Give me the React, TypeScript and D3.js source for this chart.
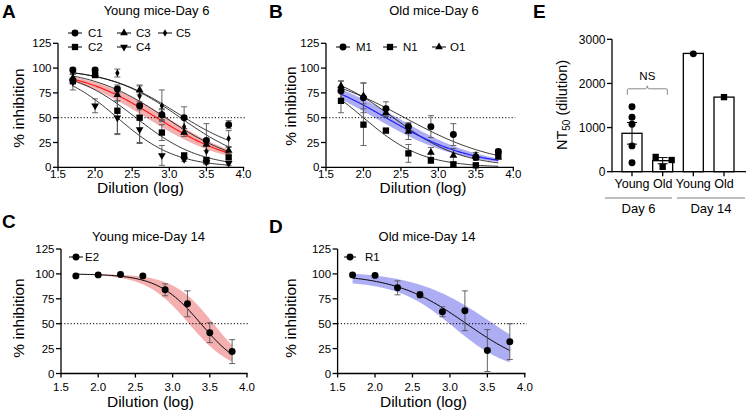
import React from "react"
import * as d3 from "d3"

const FONT = "'Liberation Sans', Arial, Helvetica, sans-serif"

// shared axes
const dilutions = [1.7, 2.0, 2.3, 2.6, 2.9, 3.2, 3.5, 3.8]
const xTicks = [1.5, 2.0, 2.5, 3.0, 3.5, 4.0]
const yTicks = [0, 25, 50, 75, 100, 125]

interface Fit {
  top: number
  bottom: number
  logIC50: number
  hill: number
}

// A: young mice, day 6
const c1Values = [98, 98, 79, 62, 53, 50, 27, 43]
const c1Errors = [2, 2, 4, 4, 6, 11, 17, 4]
const c2Values = [87, 93, 57, 50, 35, 12, 7, 10]
const c2Errors = [3, 2, 23, 25, 8, 2, 3, 2]
const c3Values = [90, 94, 73, 78, 53, 35, 23, 17]
const c3Errors = [4, 2, 6, 5, 5, 4, 6, 3]
const c4Values = [86, 62, 50, 38, 12, 8, 5, 4]
const c4Errors = [8, 7, 17, 14, 10, 2, 2, 2]
const c5Values = [96, 96, 95, 72, 62, 41, 16, 29]
const c5Errors = [2, 3, 4, 10, 16, 8, 6, 8]
const youngDay6Fits: Fit[] = [
  { top: 100, bottom: 10, logIC50: 3.1, hill: 0.9 },
  { top: 100, bottom: 0, logIC50: 2.55, hill: 1.0 },
  { top: 100, bottom: 0, logIC50: 2.95, hill: 0.85 },
  { top: 100, bottom: 0, logIC50: 2.3, hill: 1.1 },
  { top: 100, bottom: 0, logIC50: 3.15, hill: 0.9 },
]
const youngDay6Mean: Fit = { top: 100, bottom: 0, logIC50: 2.83, hill: 0.8 }
const youngDay6Band: Fit[] = [
  { top: 100, bottom: 0, logIC50: 2.97, hill: 0.8 },
  { top: 100, bottom: 0, logIC50: 2.69, hill: 0.8 },
]

// B: old mice, day 6
const m1Values = [77, 70, 59, 41, 41, 33, 10, 16]
const m1Errors = [10, 15, 7, 4, 11, 11, 3, 2]
const n1Values = [67, 43, 37, 14, 7, 3, 2, 13]
const n1Errors = [12, 21, 2, 9, 3, 2, 2, 3]
const o1Values = [82, 72, 55, 36, 15, 12, 12, 10]
const o1Errors = [5, 13, 4, 8, 5, 7, 3, 2]
const oldDay6Fits: Fit[] = [
  { top: 100, bottom: 0, logIC50: 2.55, hill: 0.7 },
  { top: 100, bottom: 0, logIC50: 2.0, hill: 1.1 },
  { top: 100, bottom: 0, logIC50: 2.4, hill: 0.95 },
]
const oldDay6Mean: Fit = { top: 100, bottom: 0, logIC50: 2.3, hill: 0.75 }
const oldDay6Band: Fit[] = [
  { top: 100, bottom: 0, logIC50: 2.45, hill: 0.75 },
  { top: 100, bottom: 0, logIC50: 2.15, hill: 0.75 },
]

// C: young mice, day 14
const e2Values = [98, 99, 99.5, 98, 84, 70, 41, 22]
const e2Errors = [1, 1, 1, 1, 6, 13, 10, 12]
const youngDay14Fit: Fit = { top: 100, bottom: 0, logIC50: 3.38, hill: 1.5 }
const youngDay14Band: Fit[] = [
  { top: 100, bottom: 0, logIC50: 3.55, hill: 1.6 },
  { top: 100, bottom: 0, logIC50: 3.22, hill: 1.5 },
]

// D: old mice, day 14
const r1Values = [99, 98.5, 86, 79, 62, 63, 23, 32]
const r1Errors = [1, 1, 7, 3, 5, 20, 21, 18]
const oldDay14Fit: Fit = { top: 100, bottom: 0, logIC50: 3.22, hill: 0.9 }
const oldDay14Band: Fit[] = [
  { top: 103, bottom: 0, logIC50: 3.55, hill: 0.85 },
  { top: 93, bottom: 0, logIC50: 3.05, hill: 1.15 },
]

// E: NT50
const nt50Labels = ["Young", "Old", "Young", "Old"]
const nt50Means = [870, 250, 2680, 1690]
const nt50Sem = [245, 70, 0, 0]
const youngDay6Nt50 = [1470, 1235, 1075, 585, 205]
const oldDay6Nt50 = [335, 265, 110]
const youngDay14Nt50 = [2670]
const oldDay14Nt50 = [1690]
const nt50Ticks = [0, 1000, 2000, 3000]
const dayGroups = ["Day 6", "Day 14"]

interface Series {
  name: string
  shape: string
  values: number[]
  errors: number[]
  fit?: Fit
}

const curveXs = d3.range(0, 106).map((i) => 1.7 + (2.1 * i) / 105)

function logistic(f: Fit, x: number) {
  return f.bottom + (f.top - f.bottom) / (1 + Math.pow(10, (x - f.logIC50) * f.hill))
}

function Marker({ shape, x, y }: { shape: string; x: number; y: number }) {
  let type: d3.SymbolType = d3.symbolCircle
  let size = 38
  if (shape === "square") { type = d3.symbolSquare; size = 40 }
  if (shape === "triangle" || shape === "triangleDown") { type = d3.symbolTriangle; size = 26 }
  if (shape === "diamond") { type = d3.symbolDiamond; size = 16 }
  const d = d3.symbol().type(type).size(size)() || ""
  const rot = shape === "triangleDown" ? " rotate(180)" : ""
  return <path d={d} transform={`translate(${x},${y})${rot}`} fill="#000" />
}

interface LegendItem { x: number; y: number; tx: number; half: number }

interface PanelProps {
  letter: string
  letterPos: [number, number]
  title: string
  titlePos: [number, number]
  xRange: [number, number]
  yRange: [number, number]
  xLabelPos: [number, number]
  yLabelPos: [number, number]
  tickBaseline: number
  series: Series[]
  mean?: Fit
  meanStroke?: string
  band: Fit[]
  bandFill: string
  legend: LegendItem[]
  curveWidth: number
}

function DosePanel(p: PanelProps) {
  const x = d3.scaleLinear().domain([1.5, 4]).range(p.xRange)
  const y = d3.scaleLinear().domain([0, 125]).range(p.yRange)
  const fitPath = (f: Fit) =>
    d3.line<number>().x((d) => x(d)).y((d) => y(logistic(f, d)))(curveXs) || ""
  const bandPath =
    d3
      .area<number>()
      .x((d) => x(d))
      .y0((d) => y(logistic(p.band[1], d)))
      .y1((d) => y(logistic(p.band[0], d)))(curveXs) || ""

  return (
    <g fontFamily={FONT}>
      <text x={p.letterPos[0]} y={p.letterPos[1]} fontSize={19} fontWeight="bold">{p.letter}</text>
      <text x={p.titlePos[0]} y={p.titlePos[1]} fontSize={13} textAnchor="middle">{p.title}</text>

      {/* legend */}
      {p.series.map((s, i) => {
        const l = p.legend[i]
        return (
          <g key={s.name}>
            <line x1={l.x - l.half} x2={l.x + l.half} y1={l.y} y2={l.y} stroke="#000" strokeWidth={1} />
            <Marker shape={s.shape} x={l.x} y={l.y} />
            <text x={l.tx} y={l.y} dy="0.36em" fontSize={11.5}>{s.name}</text>
          </g>
        )
      })}

      {/* band and fits */}
      <path d={bandPath} fill={p.bandFill} opacity={0.62} />
      {p.series.map((s) =>
        s.fit ? <path key={s.name} d={fitPath(s.fit)} fill="none" stroke="#000" strokeWidth={p.curveWidth} /> : null
      )}
      {p.mean && <path d={fitPath(p.mean)} fill="none" stroke={p.meanStroke} strokeWidth={1.2} />}

      {/* 50% line */}
      <line x1={x(1.5)} x2={x(4) + 2} y1={y(50)} y2={y(50)} stroke="#000" strokeWidth={1} strokeDasharray="1.2 2" />

      {/* error bars */}
      {p.series.map((s) =>
        s.values.map((v, i) => {
          const cx = x(dilutions[i])
          const e = s.errors[i]
          return (
            <g key={s.name + i} stroke="#555" strokeWidth={0.9}>
              <line x1={cx} x2={cx} y1={y(v - e)} y2={y(v + e)} />
              <line x1={cx - 3} x2={cx + 3} y1={y(v - e)} y2={y(v - e)} />
              <line x1={cx - 3} x2={cx + 3} y1={y(v + e)} y2={y(v + e)} />
            </g>
          )
        })
      )}
      {p.series.map((s) =>
        s.values.map((v, i) => <Marker key={s.name + "m" + i} shape={s.shape} x={x(dilutions[i])} y={y(v)} />)
      )}

      {/* axes */}
      <g stroke="#000" strokeWidth={1.3}>
        <line x1={p.xRange[0]} x2={p.xRange[0]} y1={y(0) + 0.65} y2={y(125)} />
        <line x1={p.xRange[0]} x2={x(4) + 0.65} y1={y(0)} y2={y(0)} />
        {yTicks.map((t) => (
          <line key={"yt" + t} x1={p.xRange[0] - 5} x2={p.xRange[0]} y1={y(t)} y2={y(t)} />
        ))}
        {xTicks.map((t) => (
          <line key={"xt" + t} x1={x(t)} x2={x(t)} y1={y(0)} y2={y(0) + 4} />
        ))}
      </g>
      {yTicks.map((t) => (
        <text key={"yl" + t} x={p.xRange[0] - 6.5} y={y(t)} dy="0.36em" fontSize={11.5} textAnchor="end">{t}</text>
      ))}
      {xTicks.map((t) => (
        <text key={"xl" + t} x={x(t)} y={y(0) + p.tickBaseline} fontSize={11.5} textAnchor="middle">{t.toFixed(1)}</text>
      ))}
      <text x={p.xLabelPos[0]} y={p.xLabelPos[1]} fontSize={15.5} textAnchor="middle">Dilution (log)</text>
      <text transform={`translate(${p.yLabelPos[0]},${p.yLabelPos[1]}) rotate(-90)`} fontSize={15.5} textAnchor="middle">% inhibition</text>
    </g>
  )
}

function Nt50Panel() {
  const x = d3.scalePoint<number>().domain([0, 1, 2, 3]).range([632, 724])
  const y = d3.scaleLinear().domain([0, 3000]).range([171.7, 39.3])
  const axisX = 612
  const barW = 20
  const pointSets = [youngDay6Nt50, oldDay6Nt50, youngDay14Nt50, oldDay14Nt50]
  const shapes = ["circle", "square", "circle", "square"]
  const jitter = [[0, 0, 0, 0, 0], [-7, 9, 0], [0], [0]]
  const mid01 = ((x(0) || 0) + (x(1) || 0)) / 2
  const bracketY = y(Math.max(...youngDay6Nt50)) - 18

  return (
    <g fontFamily={FONT}>
      <text x={533} y={17.5} fontSize={19} fontWeight="bold">E</text>
      {nt50Means.map((m, i) => {
        const cx = x(i) || 0
        const s = nt50Sem[i]
        return (
          <g key={"bar" + i}>
            <rect x={cx - barW / 2} y={y(m)} width={barW} height={y(0) - y(m)} fill="#fff" stroke="#000" strokeWidth={1.3} />
            {s > 0 && (
              <g stroke="#000" strokeWidth={1}>
                <line x1={cx} x2={cx} y1={y(m - s)} y2={y(m + s)} />
                <line x1={cx - 5} x2={cx + 5} y1={y(m - s)} y2={y(m - s)} />
                <line x1={cx - 5} x2={cx + 5} y1={y(m + s)} y2={y(m + s)} />
              </g>
            )}
            {pointSets[i].map((v, j) => (
              <Marker key={j} shape={shapes[i]} x={cx + jitter[i][j]} y={y(v)} />
            ))}
          </g>
        )
      })}

      {/* NS bracket */}
      <path
        d={`M${mid01 - 20},${bracketY + 6} V${bracketY + 1} Q${mid01 - 20},${bracketY} ${mid01 - 19},${bracketY} H${mid01 - 2} Q${mid01},${bracketY} ${mid01},${bracketY - 3} Q${mid01},${bracketY} ${mid01 + 2},${bracketY} H${mid01 + 19} Q${mid01 + 20},${bracketY} ${mid01 + 20},${bracketY + 1} V${bracketY + 6}`}
        fill="none"
        stroke="#888"
        strokeWidth={1}
      />
      <text x={mid01} y={bracketY - 8.5} fontSize={11.5} textAnchor="middle">NS</text>

      {/* axes */}
      <g stroke="#000" strokeWidth={1.3}>
        <line x1={axisX} x2={axisX} y1={y(0) + 0.65} y2={y(3000)} />
        <line x1={axisX} x2={746} y1={y(0)} y2={y(0)} />
        {nt50Ticks.map((t) => (
          <line key={t} x1={axisX - 5} x2={axisX} y1={y(t)} y2={y(t)} />
        ))}
        {nt50Labels.map((_, i) => (
          <line key={"t" + i} x1={x(i)} x2={x(i)} y1={y(0)} y2={y(0) + 4.5} />
        ))}
      </g>
      {nt50Ticks.map((t) => (
        <text key={"l" + t} x={axisX - 6.5} y={y(t)} dy="0.36em" fontSize={12} textAnchor="end">{t}</text>
      ))}
      {nt50Labels.map((l, i) => (
        <text key={"xl" + i} x={x(i)} y={187.6} fontSize={12.5} textAnchor="middle">{l}</text>
      ))}

      {/* day groups */}
      {dayGroups.map((g, i) => {
        const x1 = i === 0 ? 605 : 677
        const x2 = i === 0 ? 672 : 745
        return (
          <g key={g}>
            <line x1={x1} x2={x2} y1={198} y2={198} stroke="#aaa" strokeWidth={1.3} />
            <text x={(x1 + x2) / 2} y={212.5} fontSize={13} textAnchor="middle">{g}</text>
          </g>
        )
      })}

      <text transform="translate(567,105) rotate(-90)" fontSize={14.5} textAnchor="middle">
        NT<tspan fontSize={10} dy={3}>50</tspan>
        <tspan dy={-3}> (dilution)</tspan>
      </text>
    </g>
  )
}

export default function App() {
  const seriesA: Series[] = [
    { name: "C1", shape: "circle", values: c1Values, errors: c1Errors, fit: youngDay6Fits[0] },
    { name: "C2", shape: "square", values: c2Values, errors: c2Errors, fit: youngDay6Fits[1] },
    { name: "C3", shape: "triangle", values: c3Values, errors: c3Errors, fit: youngDay6Fits[2] },
    { name: "C4", shape: "triangleDown", values: c4Values, errors: c4Errors, fit: youngDay6Fits[3] },
    { name: "C5", shape: "diamond", values: c5Values, errors: c5Errors, fit: youngDay6Fits[4] },
  ]
  const seriesB: Series[] = [
    { name: "M1", shape: "circle", values: m1Values, errors: m1Errors, fit: oldDay6Fits[0] },
    { name: "N1", shape: "square", values: n1Values, errors: n1Errors, fit: oldDay6Fits[1] },
    { name: "O1", shape: "triangle", values: o1Values, errors: o1Errors, fit: oldDay6Fits[2] },
  ]
  const seriesC: Series[] = [{ name: "E2", shape: "circle", values: e2Values, errors: e2Errors, fit: youngDay14Fit }]
  const seriesD: Series[] = [{ name: "R1", shape: "circle", values: r1Values, errors: r1Errors, fit: oldDay14Fit }]

  return (
    <svg
      width={746}
      height={413}
      viewBox="0 0 746 413"
      style={{ position: "absolute", left: 0, top: 0, display: "block", background: "#fff" }}
    >
      <DosePanel
        letter="A" letterPos={[2, 17.5]}
        title="Young mice-Day 6" titlePos={[156.5, 15.3]}
        xRange={[58, 243.5]} yRange={[167.3, 43.3]}
        xLabelPos={[140.5, 192.7]} yLabelPos={[23.5, 108]}
        tickBaseline={10.5}
        series={seriesA}
        mean={youngDay6Mean} meanStroke="#ff1a1a"
        band={youngDay6Band} bandFill="#ee8080"
        curveWidth={0.8}
        legend={[
          { x: 75, y: 33, tx: 88, half: 7 },
          { x: 75, y: 47, tx: 88, half: 7 },
          { x: 124, y: 33, tx: 136, half: 7 },
          { x: 124, y: 47, tx: 136, half: 7 },
          { x: 165, y: 33, tx: 176, half: 7 },
        ]}
      />
      <DosePanel
        letter="B" letterPos={[269, 17.5]}
        title="Old mice-Day 6" titlePos={[434, 15.3]}
        xRange={[326, 513.3]} yRange={[167.3, 43.3]}
        xLabelPos={[423, 192.7]} yLabelPos={[296, 106]}
        tickBaseline={10.5}
        series={seriesB}
        mean={oldDay6Mean} meanStroke="#2020ff"
        band={oldDay6Band} bandFill="#7a7aee"
        curveWidth={0.8}
        legend={[
          { x: 343, y: 47, tx: 356, half: 7 },
          { x: 390, y: 47, tx: 403, half: 7 },
          { x: 439, y: 47, tx: 450, half: 7 },
        ]}
      />
      <DosePanel
        letter="C" letterPos={[2, 228]}
        title="Young mice-Day 14" titlePos={[148.5, 240.5]}
        xRange={[61, 247]} yRange={[373.5, 249]}
        xLabelPos={[150.5, 407]} yLabelPos={[24, 318]}
        tickBaseline={17.5}
        series={seriesC}
        band={youngDay14Band} bandFill="#ee8080"
        curveWidth={1}
        legend={[{ x: 76, y: 257, tx: 85, half: 7 }]}
      />
      <DosePanel
        letter="D" letterPos={[269, 233]}
        title="Old mice-Day 14" titlePos={[427, 240.5]}
        xRange={[337.6, 524.8]} yRange={[373.5, 249]}
        xLabelPos={[423.5, 407]} yLabelPos={[296, 318]}
        tickBaseline={17.5}
        series={seriesD}
        band={oldDay14Band} bandFill="#7a7aee"
        curveWidth={1}
        legend={[{ x: 350, y: 257, tx: 365, half: 6 }]}
      />
      <Nt50Panel />
    </svg>
  )
}
